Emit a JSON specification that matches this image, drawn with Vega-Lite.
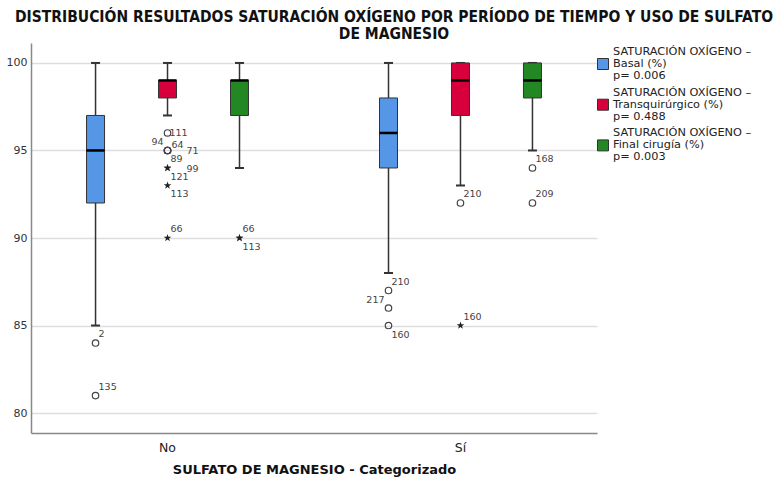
{
  "$schema": "https://vega.github.io/schema/vega-lite/v6.json",
  "width": 566,
  "height": 390,
  "autosize": "none",
  "padding": {"left": 31, "top": 43, "right": 179, "bottom": 56},
  "background": "white",
  "title": {
    "text": ["DISTRIBUCIÓN RESULTADOS SATURACIÓN OXÍGENO POR PERÍODO DE TIEMPO Y USO DE SULFATO", "DE MAGNESIO"],
    "font": "DejaVu Sans Condensed",
    "fontWeight": "bold",
    "fontSize": 15.5,
    "color": "#111",
    "anchor": "middle",
    "dx": 80,
    "offset": 1,
    "lineHeight": 17
  },
  "config": {
    "view": {"stroke": null},
    "style": {"guide-label": {"lineHeight": 12}},
    "axisX": {
      "domainColor": "#888", "domainWidth": 1.5, "ticks": false, "labelAngle": 0,
      "labelFont": "DejaVu Sans", "labelFontSize": 12.5, "labelColor": "#222", "labelPadding": 8,
      "titleFont": "DejaVu Sans", "titleFontWeight": "bold", "titleFontSize": 13, "titleColor": "#111", "titlePadding": 10
    },
    "axisY": {
      "domainColor": "#888", "domainWidth": 1.5, "ticks": false, "labelPadding": 4,
      "grid": true, "gridColor": "#dddddd", "gridWidth": 1.5,
      "labelFont": "DejaVu Sans", "labelFontSize": 11, "labelColor": "#333"
    },
    "legend": {
      "orient": "none", "legendX": 566, "legendY": 15, "padding": 0,
      "labelFont": "DejaVu Sans", "labelFontSize": 11.3, "labelColor": "#222", "labelLimit": 0, "labelOffset": 4,
      "symbolType": "square", "symbolSize": 121, "symbolStrokeColor": "#333", "symbolStrokeWidth": 1, "symbolOpacity": 1,
      "rowPadding": 4.7
    }
  },
  "datasets": {
    "cajas": [
      {"sulfato": "No", "serie": "Basal (%)", "lo": 85, "q1": 92, "med": 95, "q3": 97, "hi": 100},
      {"sulfato": "No", "serie": "Transquirúrgico (%)", "lo": 97, "q1": 98, "med": 99, "q3": 99, "hi": 100},
      {"sulfato": "No", "serie": "Final cirugía (%)", "lo": 94, "q1": 97, "med": 99, "q3": 99, "hi": 100},
      {"sulfato": "Sí", "serie": "Basal (%)", "lo": 88, "q1": 94, "med": 96, "q3": 98, "hi": 100},
      {"sulfato": "Sí", "serie": "Transquirúrgico (%)", "lo": 93, "q1": 97, "med": 99, "q3": 100, "hi": 100},
      {"sulfato": "Sí", "serie": "Final cirugía (%)", "lo": 95, "q1": 98, "med": 99, "q3": 100, "hi": 100}
    ],
    "atipicos": [
      {"sulfato": "No", "serie": "Basal (%)", "valor": 84, "caso": "2", "tipo": "atípico"},
      {"sulfato": "No", "serie": "Basal (%)", "valor": 81, "caso": "135", "tipo": "atípico"},
      {"sulfato": "No", "serie": "Transquirúrgico (%)", "valor": 96, "caso": "111", "tipo": "atípico"},
      {"sulfato": "No", "serie": "Transquirúrgico (%)", "valor": 95, "caso": "94", "tipo": "atípico"},
      {"sulfato": "No", "serie": "Transquirúrgico (%)", "valor": 95, "caso": "64", "tipo": "atípico"},
      {"sulfato": "No", "serie": "Transquirúrgico (%)", "valor": 95, "caso": "71", "tipo": "atípico"},
      {"sulfato": "No", "serie": "Transquirúrgico (%)", "valor": 95, "caso": "89", "tipo": "atípico"},
      {"sulfato": "No", "serie": "Transquirúrgico (%)", "valor": 94, "caso": "99", "tipo": "extremo"},
      {"sulfato": "No", "serie": "Transquirúrgico (%)", "valor": 94, "caso": "121", "tipo": "extremo"},
      {"sulfato": "No", "serie": "Transquirúrgico (%)", "valor": 93, "caso": "113", "tipo": "extremo"},
      {"sulfato": "No", "serie": "Transquirúrgico (%)", "valor": 90, "caso": "66", "tipo": "extremo"},
      {"sulfato": "No", "serie": "Final cirugía (%)", "valor": 90, "caso": "66", "tipo": "extremo"},
      {"sulfato": "No", "serie": "Final cirugía (%)", "valor": 90, "caso": "113", "tipo": "extremo"},
      {"sulfato": "Sí", "serie": "Basal (%)", "valor": 87, "caso": "210", "tipo": "atípico"},
      {"sulfato": "Sí", "serie": "Basal (%)", "valor": 86, "caso": "217", "tipo": "atípico"},
      {"sulfato": "Sí", "serie": "Basal (%)", "valor": 85, "caso": "160", "tipo": "atípico"},
      {"sulfato": "Sí", "serie": "Transquirúrgico (%)", "valor": 92, "caso": "210", "tipo": "atípico"},
      {"sulfato": "Sí", "serie": "Transquirúrgico (%)", "valor": 85, "caso": "160", "tipo": "extremo"},
      {"sulfato": "Sí", "serie": "Final cirugía (%)", "valor": 94, "caso": "168", "tipo": "atípico"},
      {"sulfato": "Sí", "serie": "Final cirugía (%)", "valor": 92, "caso": "209", "tipo": "atípico"}
    ]
  },
  "encoding": {
    "x": {
      "field": "sulfato", "type": "nominal", "sort": ["No", "Sí"],
      "scale": {"paddingInner": 0.2, "paddingOuter": 0.066},
      "axis": {"title": "SULFATO DE MAGNESIO - Categorizado"}
    },
    "xOffset": {
      "field": "serie", "type": "nominal",
      "scale": {"domain": ["Basal (%)", "Transquirúrgico (%)", "Final cirugía (%)"], "paddingInner": 0.75, "paddingOuter": 0.503}
    }
  },
  "layer": [
    {
      "data": {"name": "cajas"},
      "mark": {"type": "rule", "color": "#333", "strokeWidth": 1.5},
      "encoding": {
        "y": {"field": "lo", "type": "quantitative", "title": null,
              "scale": {"domain": [78.86, 101.14], "nice": false, "zero": false},
              "axis": {"values": [80, 85, 90, 95, 100]}},
        "y2": {"field": "hi"}
      }
    },
    {
      "data": {"name": "cajas"},
      "mark": {"type": "tick", "color": "#333", "size": 9, "thickness": 2, "opacity": 1},
      "encoding": {"y": {"field": "lo", "type": "quantitative", "title": null}}
    },
    {
      "data": {"name": "cajas"},
      "mark": {"type": "tick", "color": "#333", "size": 9, "thickness": 2, "opacity": 1},
      "encoding": {"y": {"field": "hi", "type": "quantitative", "title": null}}
    },
    {
      "data": {"name": "cajas"},
      "mark": {"type": "bar", "stroke": "#333", "strokeWidth": 1, "opacity": 1},
      "encoding": {
        "y": {"field": "q1", "type": "quantitative", "title": null},
        "y2": {"field": "q3"},
        "color": {
          "field": "serie", "type": "nominal",
          "scale": {"domain": ["Basal (%)", "Transquirúrgico (%)", "Final cirugía (%)"], "range": ["#5596E6", "#D7003C", "#238723"]},
          "legend": {
            "title": null,
            "encoding": {"labels": {"dy": {"value": -12}}},
            "labelExpr": "datum.label == 'Basal (%)' ? ['SATURACIÓN OXÍGENO –', 'Basal (%)', 'p= 0.006'] : datum.label == 'Transquirúrgico (%)' ? ['SATURACIÓN OXÍGENO –', 'Transquirúrgico (%)', 'p= 0.488'] : ['SATURACIÓN OXÍGENO –', 'Final cirugía (%)', 'p= 0.003']"
          }
        }
      }
    },
    {
      "data": {"name": "cajas"},
      "mark": {"type": "tick", "color": "#000", "size": 18, "thickness": 2.5, "opacity": 1},
      "encoding": {"y": {"field": "med", "type": "quantitative", "title": null}}
    },
    {
      "data": {"name": "atipicos"},
      "transform": [{"filter": "datum.tipo == 'atípico'"}],
      "mark": {"type": "point", "shape": "circle", "filled": false, "size": 42, "stroke": "#444", "strokeWidth": 1.2, "opacity": 1},
      "encoding": {"y": {"field": "valor", "type": "quantitative", "title": null}}
    },
    {
      "data": {"name": "atipicos"},
      "transform": [{"filter": "datum.tipo == 'extremo'"}],
      "mark": {"type": "point", "shape": "M0,-1L0.235,-0.324L0.951,-0.309L0.38,0.124L0.588,0.809L0,0.4L-0.588,0.809L-0.38,0.124L-0.951,-0.309L-0.235,-0.324Z", "filled": true, "size": 64, "color": "#222", "opacity": 1},
      "encoding": {"y": {"field": "valor", "type": "quantitative", "title": null}}
    },
    {
      "data": {"name": "atipicos"},
      "transform": [{"filter": "indexof(['2','135','66','210','168','209'], datum.caso) >= 0 || (datum.caso == '160' && datum.serie == 'Transquirúrgico (%)')"}],
      "mark": {"type": "text", "align": "left", "baseline": "middle", "dx": 3, "dy": -9, "font": "DejaVu Sans", "fontSize": 9.5, "color": "#444"},
      "encoding": {"y": {"field": "valor", "type": "quantitative", "title": null}, "text": {"field": "caso"}}
    },
    {
      "data": {"name": "atipicos"},
      "transform": [{"filter": "datum.caso == '64'"}],
      "mark": {"type": "text", "align": "left", "baseline": "middle", "dx": 4, "dy": -5, "font": "DejaVu Sans", "fontSize": 9.5, "color": "#444"},
      "encoding": {"y": {"field": "valor", "type": "quantitative", "title": null}, "text": {"field": "caso"}}
    },
    {
      "data": {"name": "atipicos"},
      "transform": [{"filter": "datum.caso == '111'"}],
      "mark": {"type": "text", "align": "left", "baseline": "middle", "dx": 2, "dy": 0, "font": "DejaVu Sans", "fontSize": 9.5, "color": "#444"},
      "encoding": {"y": {"field": "valor", "type": "quantitative", "title": null}, "text": {"field": "caso"}}
    },
    {
      "data": {"name": "atipicos"},
      "transform": [{"filter": "datum.caso == '71' || datum.caso == '99'"}],
      "mark": {"type": "text", "align": "left", "baseline": "middle", "dx": 19, "dy": 1, "font": "DejaVu Sans", "fontSize": 9.5, "color": "#444"},
      "encoding": {"y": {"field": "valor", "type": "quantitative", "title": null}, "text": {"field": "caso"}}
    },
    {
      "data": {"name": "atipicos"},
      "transform": [{"filter": "indexof(['89','121','113'], datum.caso) >= 0 || (datum.caso == '160' && datum.serie == 'Basal (%)')"}],
      "mark": {"type": "text", "align": "left", "baseline": "middle", "dx": 3, "dy": 9, "font": "DejaVu Sans", "fontSize": 9.5, "color": "#444"},
      "encoding": {"y": {"field": "valor", "type": "quantitative", "title": null}, "text": {"field": "caso"}}
    },
    {
      "data": {"name": "atipicos"},
      "transform": [{"filter": "datum.caso == '94' || datum.caso == '217'"}],
      "mark": {"type": "text", "align": "right", "baseline": "middle", "dx": -4, "dy": -8, "font": "DejaVu Sans", "fontSize": 9.5, "color": "#444"},
      "encoding": {"y": {"field": "valor", "type": "quantitative", "title": null}, "text": {"field": "caso"}}
    }
  ]
}
